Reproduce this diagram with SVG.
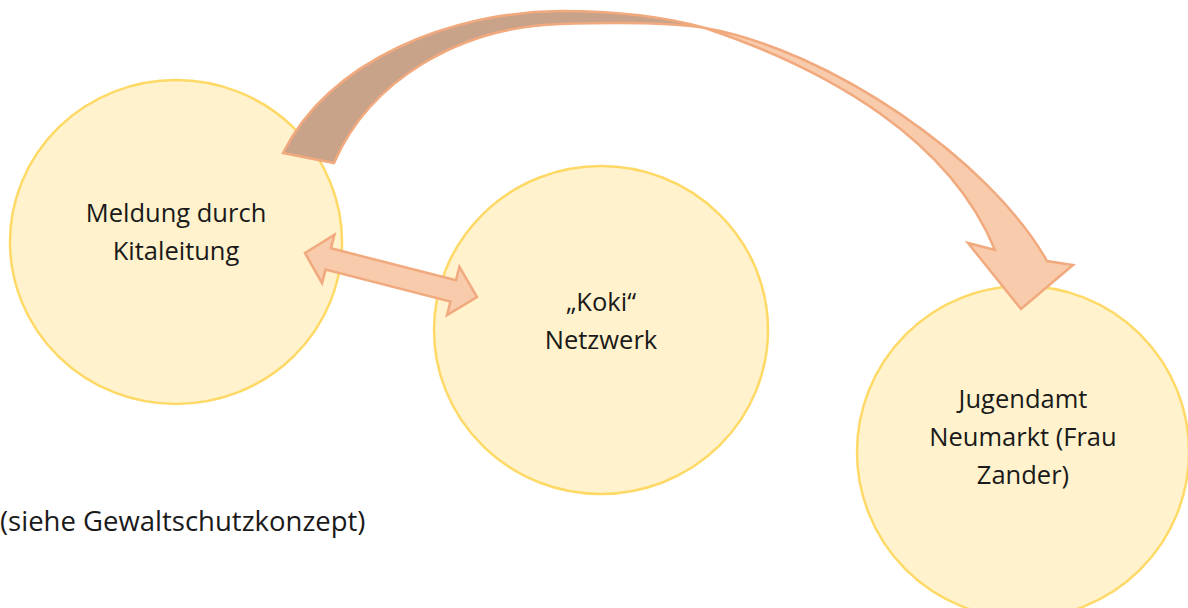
<svg xmlns="http://www.w3.org/2000/svg" width="1188" height="608" viewBox="0 0 1188 608">
<style>
.node{fill:#FFF2CC;stroke:#FFD966;stroke-width:2.5}
.lbl{font-family:"Open Sans","Noto Sans",sans-serif;font-size:25.5px;fill:#1a1a1a;text-anchor:middle}
.arr{fill:#F7CBAC;stroke:#F1A97E;stroke-width:2.5;stroke-linejoin:miter}
.back{fill:#C9A28A;stroke:#F1A97E;stroke-width:2.5}
</style>
<rect width="1188" height="608" fill="#fff"/>
<g id="node-meldung">
<ellipse class="node" cx="176" cy="242" rx="166" ry="162"/>
<text class="lbl" x="176" y="222">Meldung durch</text>
<text class="lbl" x="176" y="260">Kitaleitung</text>
</g>
<g id="node-koki">
<ellipse class="node" cx="601" cy="330" rx="167" ry="164"/>
<text class="lbl" x="601" y="311">„Koki“</text>
<text class="lbl" x="601" y="349">Netzwerk</text>
</g>
<g id="node-jugendamt">
<ellipse class="node" cx="1023" cy="452" rx="166" ry="166"/>
<text class="lbl" x="1023" y="408">Jugendamt</text>
<text class="lbl" x="1023" y="446">Neumarkt (Frau</text>
<text class="lbl" x="1023" y="484">Zander)</text>
</g>
<g id="connectors">
<path class="back" d="M283,153 C330,60 450,12 560,11 C620,11 670,18 705,28 C670,22 620,22 560,24 C460,27 370,80 334,163 Z"/>
<path class="arr" d="M705,28 C830,50 990,160 1047,261 L1073,265 L1021,309 L968,243 L995,250 C950,140 830,70 705,28 Z"/>
<path class="arr" transform="translate(305,253) rotate(14.35)" d="M0,0 L24,-25 L24,-11 L153,-11 L153,-25 L177.5,0 L153,25 L153,11 L24,11 L24,25 Z"/>
</g>
<text class="lbl" x="0" y="531" style="text-anchor:start;font-size:27.5px">(siehe Gewaltschutzkonzept)</text>
</svg>
